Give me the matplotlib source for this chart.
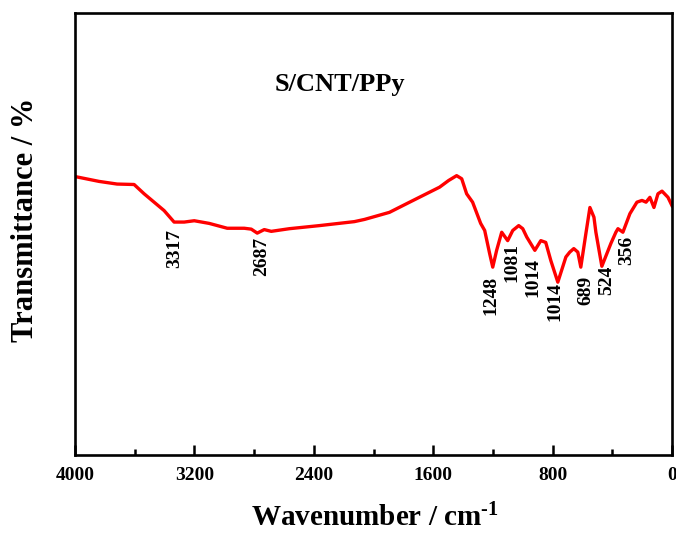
import matplotlib
matplotlib.use("Agg")
import matplotlib.pyplot as plt
from matplotlib.ticker import MultipleLocator

# Data (wavenumber cm-1, transmittance in arbitrary %)
wavenumber = [4000, 3839, 3718, 3604, 3537, 3403, 3336, 3268, 3201, 3101, 2980, 2866,
              2819, 2779, 2732, 2685, 2564, 2362, 2128, 2060, 1893, 1758, 1557, 1497,
              1443, 1409, 1376, 1336, 1282, 1255, 1222, 1201, 1175, 1141, 1101, 1067,
              1027, 1000, 973, 919, 879, 846, 812, 765, 711, 685, 658, 631, 611, 577,
              550, 523, 510, 470, 436, 409, 376, 362, 329, 282, 235, 201, 174, 148,
              121, 94, 67, 27, 0]
transmittance = [63.0, 61.9, 61.3, 61.2, 59.1, 55.3, 52.7, 52.7, 53.0, 52.4, 51.3, 51.3,
                 51.1, 50.2, 51.0, 50.6, 51.2, 51.9, 52.8, 53.3, 54.9, 57.2, 60.6, 62.1,
                 63.2, 62.5, 59.1, 57.2, 52.4, 50.8, 45.6, 42.5, 46.3, 50.4, 48.5, 50.8,
                 51.9, 51.2, 49.3, 46.3, 48.5, 48.1, 44.0, 39.1, 44.8, 45.9, 46.7, 45.9,
                 42.5, 50.1, 56.0, 53.8, 50.4, 42.7, 45.6, 47.9, 50.4, 51.2, 50.4, 54.6,
                 57.2, 57.6, 57.2, 58.3, 56.0, 59.1, 59.7, 58.3, 56.4]

peak_labels = ["3317", "2687", "1248", "1081", "1014", "1014", "689", "524", "356"]
peak_x = [3329, 2752, 1215, 1074, 933, 785, 577, 436, 302]
peak_y = [51.2, 49.4, 40.6, 47.9, 44.5, 39.1, 40.6, 42.9, 49.7]

title = "S/CNT/PPy"
xticks = [4000, 3200, 2400, 1600, 800, 0]

plt.rcParams['font.family'] = ['Liberation Serif', 'DejaVu Serif']
plt.rcParams['font.weight'] = 'bold'
plt.rcParams['mathtext.fontset'] = 'custom'
plt.rcParams['mathtext.rm'] = 'Liberation Serif:bold'
plt.rcParams['mathtext.it'] = 'Liberation Serif:bold'
plt.rcParams['mathtext.bf'] = 'Liberation Serif:bold'
plt.rcParams['mathtext.default'] = 'rm'

fig = plt.figure(figsize=(6.76, 5.34), dpi=100)
W, H = 676, 534
l, r, t, b = 75, 672, 13, 455
ax = fig.add_axes([l / W, 1 - b / H, (r - l) / W, (b - t) / H])

ax.plot(wavenumber, transmittance, color='#ff0000', lw=2.4, solid_joinstyle='round')

ax.set_xlim(4000, 0)
ax.set_ylim(0, 100)
ax.set_xticks(xticks)
ax.set_xticklabels([str(v) for v in xticks])
ax.xaxis.set_minor_locator(MultipleLocator(400))
ax.set_yticks([])

for s in ax.spines.values():
    s.set_linewidth(1.9)
ax.tick_params(axis='x', which='major', direction='in', length=7, width=1.8,
               labelsize=14, pad=9)
ax.tick_params(axis='x', which='minor', direction='in', length=4, width=1.8)
ax.tick_params(axis='x', which='both', top=False)

for lab, px, py in zip(peak_labels, peak_x, peak_y):
    ax.text(px, py, lab, rotation=90, ha='center', va='top', fontsize=14,
            fontweight='bold')

ax.text(0.444, 0.839, title, transform=ax.transAxes, ha='center', va='center',
        fontsize=19, fontweight='bold')

ax.set_xlabel(r'Wavenumber / cm$^{\u2010 1}$'.replace('\\u2010 ', '\u2010'),
              fontsize=21, fontweight='bold')
ax.xaxis.set_label_coords(0.5025, -0.11)
ax.set_ylabel('Transmittance / %', fontsize=22, fontweight='bold')
ax.yaxis.set_label_coords(-0.058, 0.532)

fig.savefig('out.png', dpi=100)
